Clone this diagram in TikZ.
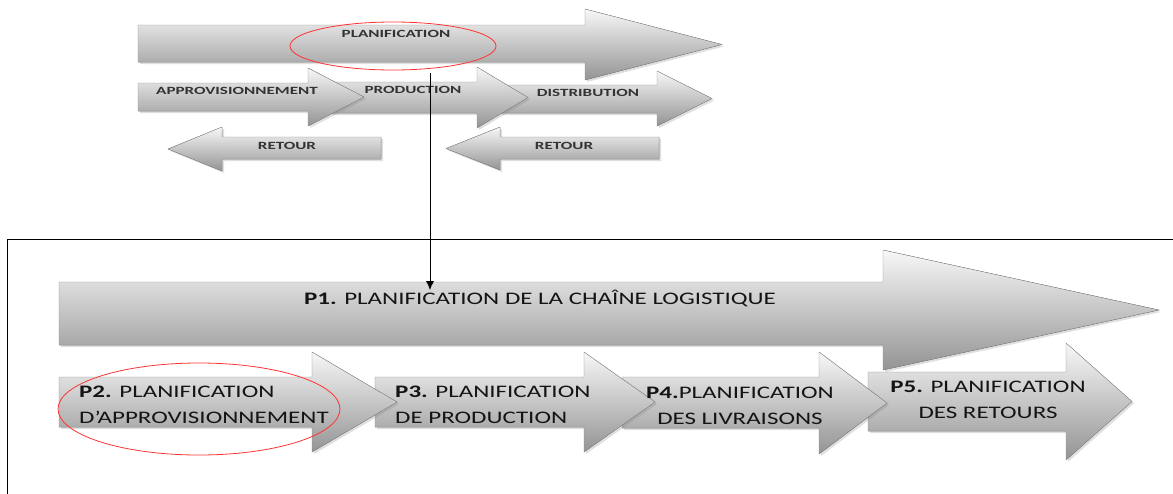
\documentclass[tikz,border=0pt]{standalone}
\usepackage{fontspec}
\setmainfont{Carlito}
\newfontfamily\topfont{Carlito}[FakeStretch=1.55]
\newfontfamily\botfont{Carlito}[FakeStretch=1.42]
\usetikzlibrary{arrows.meta,shadows}

% block arrow: style, tail x, head base x, tip x, shaft top, shaft bottom, head top, head bottom
\newcommand{\flow}[8]{%
\filldraw[#1] (#2,#5) -- (#3,#5) -- (#3,#7) -- (#4,{(#7+#8)/2}) -- (#3,#8) -- (#3,#6) -- (#2,#6) -- cycle;}

\tikzset{
  flowarrow/.style={draw=black!45,top color=black!3,bottom color=black!42,
    drop shadow={opacity=0.25,shadow xshift=2pt,shadow yshift=-2pt}},
  toplabel/.style={font=\topfont\bfseries\fontsize{11}{12}\selectfont,text=black!80,inner sep=0pt},
  botlabel/.style={font=\botfont\fontsize{17.6}{26}\selectfont,text=black!92,inner sep=0pt},
  redring/.style={draw=red!80,line width=0.8pt}
}

\begin{document}
\begin{tikzpicture}[x=1pt,y=-1pt]
\useasboundingbox (0,0) rectangle (1173,493);

% draw upper flows
\flow{flowarrow}{138}{585}{722}{25}{62}{9}{80}
\flow{flowarrow}{500}{657}{712}{85}{113}{71}{126}
\flow{flowarrow}{330}{477}{528}{82}{113}{67}{128}
\flow{flowarrow}{138}{308}{364}{83}{111}{68}{126}
\flow{flowarrow}{381}{222}{168}{137}{159}{127}{171}
\flow{flowarrow}{659}{500}{446}{137}{159}{127}{170}
\node[toplabel] (planif) at (396,34) {PLANIFICATION};
\node[toplabel] (approv) at (237,91) {APPROVISIONNEMENT};
\node[toplabel] (prod) at (413,90) {PRODUCTION};
\node[toplabel] (distr) at (588,93) {DISTRIBUTION};
\node[toplabel] (ret1) at (287,146) {RETOUR};
\node[toplabel] (ret2) at (564,146) {RETOUR};
\draw[redring] (393,46) ellipse [x radius=103pt,y radius=24pt];

% frame
\draw[thick] (7,500) -- (7,239) -- (1180,239);

% draw lower flows
\flow{flowarrow}{59}{883}{1159}{282}{345}{250}{370}
\flow{flowarrow}{868}{1066}{1132}{372}{431}{343}{460}
\flow{flowarrow}{622}{819}{887}{377}{428}{352}{454}
\flow{flowarrow}{375}{584}{655}{377}{427}{352}{452}
\flow{flowarrow}{59}{312}{397}{377}{427}{352}{452}
\node[botlabel] (p1) at (540,298) {\textbf{P1.} PLANIFICATION DE LA CHAÎNE LOGISTIQUE};
\node[botlabel,anchor=west,align=left] (p2) at (79,405) {\textbf{P2.} PLANIFICATION\\D’APPROVISIONNEMENT};
\node[botlabel,anchor=west,align=left] (p3) at (395,405) {\textbf{P3.} PLANIFICATION\\DE PRODUCTION};
\node[botlabel,align=center] (p4) at (740,406) {\textbf{P4.}PLANIFICATION\\DES LIVRAISONS};
\node[botlabel,align=center] (p5) at (988,400) {\textbf{P5.} PLANIFICATION\\DES RETOURS};
\draw[redring] (199,409) ellipse [x radius=141pt,y radius=46pt];

% link
\coordinate (from) at (430,73);
\coordinate (to) at (430,290);
\draw[thick,-{Latex[length=9pt,width=8pt]}] (from) -- (to);
\end{tikzpicture}
\end{document}
